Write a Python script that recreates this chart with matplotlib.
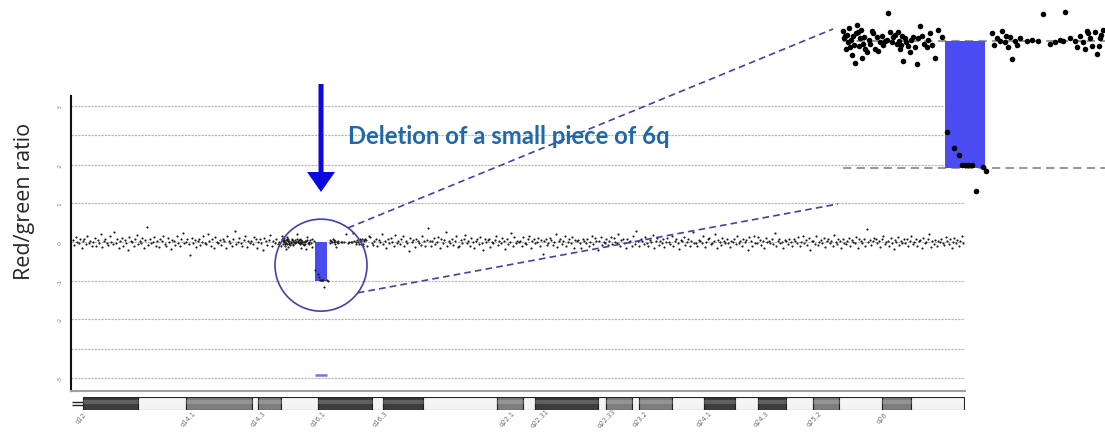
import numpy as np
import matplotlib.pyplot as plt
from matplotlib.patches import Circle, FancyArrow

# ---- array CGH probe ratios along 6q (units of 1/55 log ratio, evenly spaced probes) ----
probe_start, probe_end = 58.2, 170.8
probe_unit = 55
probe_ratio_raw = [
    3, -4, 7, 0, -2, 5, -8, 1, 4, -3, 9, -1, 2, -6, 0, 6, -5, 3, -2, 12,
    -7, 2, 5, -1, -4, 8, 0, -3, 14, -2, 4, -9, 1, 6, -5, 3, -1, -11, 7, 2,
    0, -6, 4, 10, -3, 1, -2, 6, -8, 3, 22, -4, 5, -1, 0, 7, -5, 2, -7, 4,
    1, 9, -3, -5, 6, 0, -10, 3, 2, -4, 8, -1, -6, 5, 13, -2, 0, 4, -3, -18,
    6, -2, 3, -7, 1, 5, -4, 0, 8, -1, -3, 11, 2, -5, 4, -9, 7, 0, -2, 3,
    -4, 5, 1, -8, 9, 2, -1, -6, 4, 16, -3, 0, 6, -2, -5, 3, 8, -7, 1, -1,
    2, -3, 7, 4, -9, 0, 5, -2, -12, 6, 1, -4, 3, 10, -6, 2, -1, 5, -3, 0,
    -5, 8, -1, 3, 0, -7, 6, 2, -3, 4, -10, 1, 7, -2, 25, -4, 3, -6, 5, -1,
    4, 0, -5, 9, -2, 1, 6, -8, 3, -1, 5, -3, 0, -14, 8, 2, -6, 4, 1, -4,
    -2, 6, 3, -1, -7, 11, 0, 4, -5, 2, -3, 7, -9, 1, 5, -2, 0, 3, -6, 9,
    7, -1, -4, 2, 5, -6, 3, 0, 12, -3, 1, -8, 4, -2, 6, 0, -5, 10, -1, 2,
    -3, 4, 8, -5, 1, -2, -13, 6, 0, 3, -7, 5, 2, -1, -4, 9, 1, -6, 3, 20,
    1, -5, 2, 6, -3, 0, 7, -9, 4, -2, 3, 15, -6, 1, -1, 5, -4, 2, 8, -7,
    -6, 3, -1, 4, 10, -2, 1, -5, 6, 0, -8, 2, 5, -3, 7, -1, -11, 4, 0, 3,
    5, -7, 0, -2, 3, 8, -4, 1, -1, 6, 2, -10, 4, -3, 0, 13, -5, 7, -2, 1,
    0, 2, -6, 7, -1, -3, 5, 9, -8, 1, 4, -2, 0, 6, -5, 3, -17, 2, 5, -4,
    -1, 6, 3, -4, 0, 11, -7, 2, 5, -3, 1, 8, -6, 0, 4, -2, 7, -9, 3, 1,
    3, -2, -8, 5, 2, -1, 4, -5, 0, 9, -3, 6, 1, -11, 2, 7, -4, 0, -1, 5,
    -4, 1, 7, -3, 6, 0, -2, 12, -6, 3, 5, -1, -9, 4, 0, 2, -5, 8, -3, 16,
    2, -6, 4, 1, -3, 7, -1, -5, 3, 0, 10, -8, 2, 6, -4, 1, -2, 5, -7, 0,
    6, 0, -3, 8, -5, 2, 4, -1, -10, 3, 1, 7, -4, 0, 5, -6, 2, 14, -2, -1,
    -5, 3, 1, -2, 9, -7, 0, 4, 6, -3, -1, 2, 11, -8, 3, 0, -4, 6, 1, -2,
    4, -1, -7, 2, 0, 5, -3, 8, -2, 1, -6, 4, 0, 3, -12, 7, 2, -5, 9, -1,
    -2, 7, 3, -4, 1, -9, 6, 0, 2, -1, 5, -3, 13, -6, 1, 4, -2, 0, -8, 3,
    1, -3, 5, 0, -6, 4, 2, -2, 7, -5, 0, 9, -1, 3, -4, 6, -11, 2, 1, -3,
    8, -4, 0, 3, -1, 6, -7, 2, 4, -2, 1, -5, 10, 0, -3, 5, 2, -9, 4, -1,
    -3, 2, 6, -5, 3, 0, -1, 7, -8, 4, 1, -2, 5, -6, 18, 0, 3, -4, 2, 6,
    5, -2, 1, -7, 4, 9, -3, 0, 2, -5, 6, -1, -10, 3, 0, 7, -4, 1, -2, 4,
    -1, 4, -5, 2, 8, -3, 0, 5, -6, 1, 3, -9, 6, -2, 0, 4, 12, -7, 2, -3,
    3, -6, 2, 0, 5, -1, -4, 7, 1, -3, 4, -8, 0, 6, -2, 3, -5, 1, 9, -1,
]

# probes around the deletion (Mb, log ratio), shown enlarged in the inset
zoom_mb = [
    84.72, 84.76, 84.80, 84.84, 84.88, 84.92, 84.96, 85.00, 85.04, 85.08,
    85.12, 85.16, 85.20, 85.24, 85.28, 85.32, 85.36, 85.40, 85.44, 85.48,
    85.52, 85.56, 85.60, 85.68, 85.76, 85.80, 85.88, 85.92, 86.00, 86.08,
    86.12, 86.20, 86.28, 86.32, 86.40, 86.48, 86.52, 86.60, 86.68, 86.72,
    86.80, 86.88, 86.92, 86.96, 87.00, 87.04, 87.08, 87.12, 87.20, 87.24,
    87.32, 87.40, 87.44, 87.52, 87.60, 87.68, 87.72, 87.80, 87.88, 87.96,
    88.08, 88.12, 88.20, 88.30, 88.40, 88.52, 88.68,
    90.68, 90.76, 90.88, 91.00, 91.08, 91.20, 91.25, 91.32, 91.40, 91.48,
    91.60, 91.70, 91.80, 92.08, 92.30, 92.52, 92.72, 93.00, 93.20, 93.40,
    93.52, 93.60, 93.80, 94.00, 94.08, 94.20, 94.32, 94.40, 94.48, 94.52,
    94.60, 94.68, 94.80, 94.88, 94.95, 95.00, 95.06, 95.12,
]
zoom_ratio = [
    0.08, 0.02, 0.04, -0.06, 0.05, -0.01, 0.10, -0.05, 0.01, -0.11,
    0.04, -0.03, -0.17, 0.06, 0.13, 0.07, -0.04, 0.02, 0.09, -0.13,
    -0.02, 0.03, -0.06, -0.09, 0.01, -0.02, 0.08, 0.06, -0.06, 0.03,
    -0.08, -0.01, 0.04, -0.03, 0.00, 0.01, 0.22, 0.07, -0.01, 0.03,
    0.05, -0.02, 0.07, 0.00, -0.06, -0.03, 0.04, -0.16, 0.02, -0.01,
    -0.04, -0.09, 0.01, 0.03, -0.05, -0.18, 0.02, 0.12, 0.04, -0.02,
    -0.05, 0.01, 0.06, -0.03, -0.13, 0.09, 0.03,
    0.06, -0.03, 0.02, 0.00, 0.08, -0.01, 0.04, -0.05, 0.03, -0.14,
    0.00, -0.03, 0.02, 0.00, 0.01, 0.00, 0.21, -0.02, -0.01, 0.01,
    0.00, 0.23, 0.02, 0.00, -0.05, 0.04, -0.01, -0.06, 0.08, 0.06,
    0.02, -0.04, 0.07, -0.10, -0.04, 0.02, 0.05, 0.09,
]

# probes inside the deleted segment
del_mb = [88.88, 89.16, 89.36, 89.48, 89.60, 89.72, 89.88, 90.04, 90.32, 90.44]
del_ratio = [-0.72, -0.84, -0.90, -0.98, -0.98, -0.98, -0.98, -1.18, -0.99, -1.02]

# segmentation call for the loss
del_start, del_end, del_level = 88.8, 90.4, -1.0
call_track_y = -2.95

# cytoband ideogram of 6q (Mb), stain 0 = gneg, 1 = gpos50, 2 = gpos100
band_start = [59.5, 66.5, 72.5, 80.9, 81.6, 84.5, 89.2, 96.0, 97.4, 102.5,
              111.8, 115.1, 116.6, 124.6, 125.6, 128.9, 129.8, 134.0, 138.0,
              141.9, 144.8, 148.4, 151.8, 155.1, 160.5, 164.2]
band_end = band_start[1:] + [170.9]
band_stain = [2, 0, 1, 0, 1, 0, 2, 0, 2, 0, 1, 0, 2, 0, 1, 0, 1, 0, 2,
              0, 2, 0, 1, 0, 1, 0]
band_label = ['q12', 'q14.1', 'q14.3', 'q16.1', 'q16.3', 'q22.1', 'q22.31',
              'q22.33', 'q23.2', 'q24.1', 'q24.3', 'q25.2', 'q26']
band_label_mb = [59.3, 72.8, 81.6, 89.2, 97.1, 113.1, 117.3, 125.7, 129.9,
                 138.1, 145.3, 152.0, 160.5]

y_ticks = [3, 2, 1, 0, -1, -2, -3]
grid_levels = [3, 2.5, 2, 1, 0, -1, -2, -2.5, -3]

# axis stretched beyond +/-2
K = 1.53


def fwd(y):
    y = np.asarray(y, dtype=float)
    a = np.abs(y)
    return np.where(a <= 2, y, np.sign(y) * (2 + (a - 2) * K))


def inv(v):
    v = np.asarray(v, dtype=float)
    a = np.abs(v)
    return np.where(a <= 2, v, np.sign(v) * (2 + (a - 2) / K))


W, H = 1105, 435
fig = plt.figure(figsize=(W / 100, H / 100), dpi=100)
fig.patch.set_facecolor('white')

# ---- main ratio plot ----
ax = fig.add_axes([71 / W, 1 - 392 / H, 894 / W, 295 / H])
ax.set_yscale('function', functions=(fwd, inv))
ax.set_xlim(58, 171)
ax.set_ylim(-3.22, 3.17)

for g in grid_levels:
    ax.axhline(g, color='#b5b5b5', lw=0.8, ls=(0, (2, 1)), zorder=0)

probe_x = np.linspace(probe_start, probe_end, len(probe_ratio_raw))
probe_y = np.array(probe_ratio_raw) / probe_unit
keep = (probe_x < zoom_mb[0]) | (probe_x > zoom_mb[-1])
ax.scatter(probe_x[keep], probe_y[keep], s=2.4, color='#1a1a1a', lw=0, zorder=3)
ax.scatter(zoom_mb, zoom_ratio, s=2.4, color='#1a1a1a', lw=0, zorder=3)

ax.bar(del_start, del_level, width=del_end - del_start, align='edge',
       color='#4b4bf2', zorder=2)
ax.scatter(del_mb, del_ratio, s=2.4, color='#1a1a1a', lw=0, zorder=3)
ax.hlines(call_track_y, del_start, del_end, color='#7474e0', lw=1.8, zorder=2)

ax.set_yticks(y_ticks)
ax.set_yticklabels([str(t) for t in y_ticks], rotation=90, fontsize=4.5,
                   color='#888888', va='center')
ax.tick_params(axis='y', length=0, pad=6)
ax.set_xticks([])
for s in ['top', 'right']:
    ax.spines[s].set_visible(False)
ax.spines['left'].set_color('#111111')
ax.spines['left'].set_linewidth(1.5)
ax.spines['bottom'].set_color('#a0a0a0')
ax.spines['bottom'].set_linewidth(1.5)
ax.set_facecolor('none')

fig.text(25 / W, 1 - 201 / H, 'Red/green ratio', rotation=90, ha='center',
         va='center', fontsize=15.5, family='Open Sans', color='#262626')

# ---- ideogram ----
axi = fig.add_axes([71 / W, 1 - 411 / H, 894 / W, 13 / H])
axi.set_xlim(58, 171)
axi.set_ylim(-0.5, 0.5)
stain_col = {0: '#f3f3f3', 1: '#7d7d7d', 2: '#3d3d3d'}
for b0, b1, st in zip(band_start, band_end, band_stain):
    axi.barh(0, b1 - b0, left=b0, height=1, color=stain_col[st],
             edgecolor='#222222', lw=0.8)
    # soft highlight for a rounded look
    axi.barh(0.12, b1 - b0, left=b0, height=0.3, color='white', alpha=0.18, lw=0)
axi.hlines([-0.12, 0.12], 58.1, band_start[0], color='#222222', lw=1.0)
axi.axis('off')
for lab, xm in zip(band_label, band_label_mb):
    axi.text(xm, -0.6, lab, transform=axi.get_xaxis_transform(),
             rotation=45, ha='center', va='center', fontsize=4.8, color='#707070')

# ---- inset enlarging the deletion ----
inset_left = 843
axz = fig.add_axes([inset_left / W, 1 - 200 / H, (W - inset_left) / W, 200 / H])
axz.set_xlim(84.72, 95.2)
axz.set_ylim(-1.244, 0.331)
axz.set_facecolor('white')
axz.axhline(0, color='#9a9a9a', lw=1.5, ls=(0, (4, 2.5)), zorder=1)
axz.axhline(del_level, color='#9a9a9a', lw=1.5, ls=(0, (4, 2.5)), zorder=1)
axz.bar(del_start, del_level, width=del_end - del_start, align='edge',
        color='#4b4bf2', zorder=2)
axz.scatter(zoom_mb, zoom_ratio, s=16, color='black', lw=0, zorder=3, clip_on=False)
axz.scatter(del_mb, del_ratio, s=16, color='black', lw=0, zorder=3, clip_on=False)
axz.axis('off')

# ---- annotations in pixel space ----
ov = fig.add_axes([0, 0, 1, 1])
ov.set_xlim(0, W)
ov.set_ylim(H, 0)
ov.axis('off')
ov.set_zorder(5)
axz.set_zorder(6)

del_mid = (del_start + del_end) / 2
cx, cy_disp = ax.transData.transform((del_mid, 0.6 * del_level))
cy = H - cy_disp
r = 46
navy = '#4343a3'
ov.add_patch(Circle((cx, cy), r, fill=False, ec=navy, lw=1.2))

a1, a2 = np.deg2rad(-54), np.deg2rad(37)
ov.plot([cx + r * np.cos(a1), inset_left - 10], [cy + r * np.sin(a1), 30],
        color=navy, lw=1.2, ls=(0, (4, 2.5)))
ov.plot([cx + r * np.cos(a2), inset_left - 5], [cy + r * np.sin(a2), 205],
        color=navy, lw=1.2, ls=(0, (4, 2.5)))

ov.add_patch(FancyArrow(cx, 85, 0, 108, width=5, head_width=28, head_length=20,
                        length_includes_head=True, color='#0a0ae0', lw=0))
ov.text(348, 137, 'Deletion of a small piece of 6q', ha='left', va='center',
        fontsize=17.2, fontweight='bold', family='Lato', color='#2168a8')

fig.savefig('out.png', dpi=100)
